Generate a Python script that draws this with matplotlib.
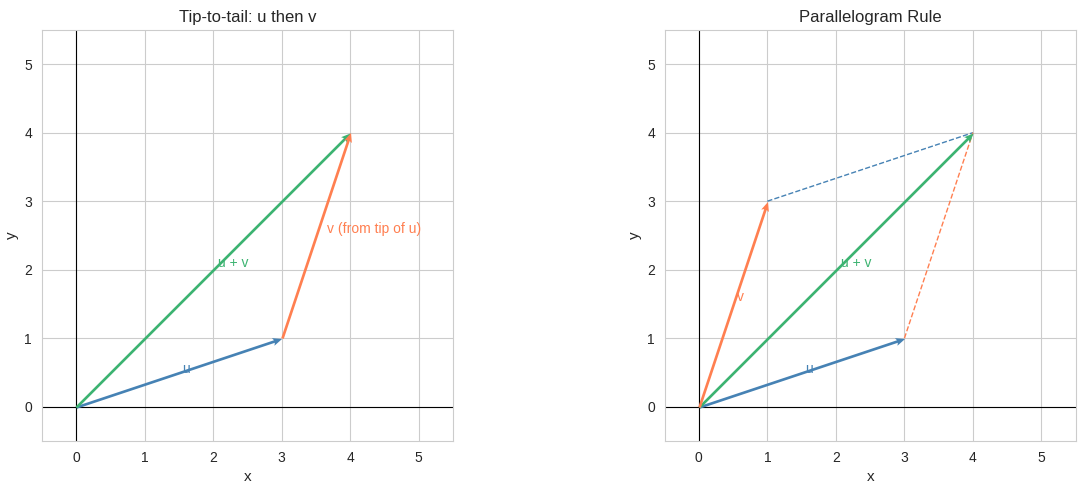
import matplotlib
matplotlib.use("Agg")
import matplotlib.pyplot as plt
import seaborn as sns

sns.set_style("whitegrid")
plt.rcParams['font.family'] = ['Liberation Sans', 'DejaVu Sans']
plt.rcParams['xtick.labelsize'] = 10
plt.rcParams['ytick.labelsize'] = 10

u = [3, 1]
v = [1, 3]
s = [u[0] + v[0], u[1] + v[1]]
titles = ["Tip-to-tail: u then v", "Parallelogram Rule"]
cu, cv, cs = "#4682b4", "#ff7f50", "#3cb371"

fig = plt.figure(figsize=(10.85, 4.9), dpi=100)
axes = [fig.add_axes([0.038, 0.1, 0.38, 0.839]),
        fig.add_axes([0.612, 0.1, 0.38, 0.839])]

def arrow(ax, x0, y0, dx, dy, c):
    ax.quiver(x0, y0, dx, dy, angles='xy', scale_units='xy', scale=1,
              color=c, width=0.0065, headwidth=3, headlength=3.5, headaxislength=3, zorder=3)

for i, ax in enumerate(axes):
    ax.axhline(0, color='black', lw=0.8)
    ax.axvline(0, color='black', lw=0.8)
    arrow(ax, 0, 0, u[0], u[1], cu)
    arrow(ax, 0, 0, s[0], s[1], cs)
    ax.text(u[0] / 2 + 0.1, u[1] / 2 + 0.05, "u", color=cu, fontsize=10, ha='center', va='center')
    ax.text(s[0] / 2 + 0.3, s[1] / 2 + 0.1, "u + v", color=cs, fontsize=10, ha='center', va='center')
    if i == 0:
        arrow(ax, u[0], u[1], v[0], v[1], cv)
        ax.text(u[0] + v[0] / 2 + 0.85, u[1] + v[1] / 2 + 0.1, "v (from tip of u)", color=cv,
                fontsize=10, ha='center', va='center')
    else:
        arrow(ax, 0, 0, v[0], v[1], cv)
        ax.text(v[0] / 2 + 0.1, v[1] / 2 + 0.1, "v", color=cv, fontsize=10, ha='center', va='center')
        ax.plot([v[0], s[0]], [v[1], s[1]], '--', color=cu, lw=1)
        ax.plot([u[0], s[0]], [u[1], s[1]], '--', color=cv, lw=1)
    ax.set_xlim(-0.5, 5.5)
    ax.set_ylim(-0.5, 5.5)
    ax.set_aspect('equal')
    ax.set_xlabel("x", fontsize=11)
    ax.set_ylabel("y", fontsize=11)
    ax.set_title(titles[i], fontsize=12)

fig.savefig("out.png")
